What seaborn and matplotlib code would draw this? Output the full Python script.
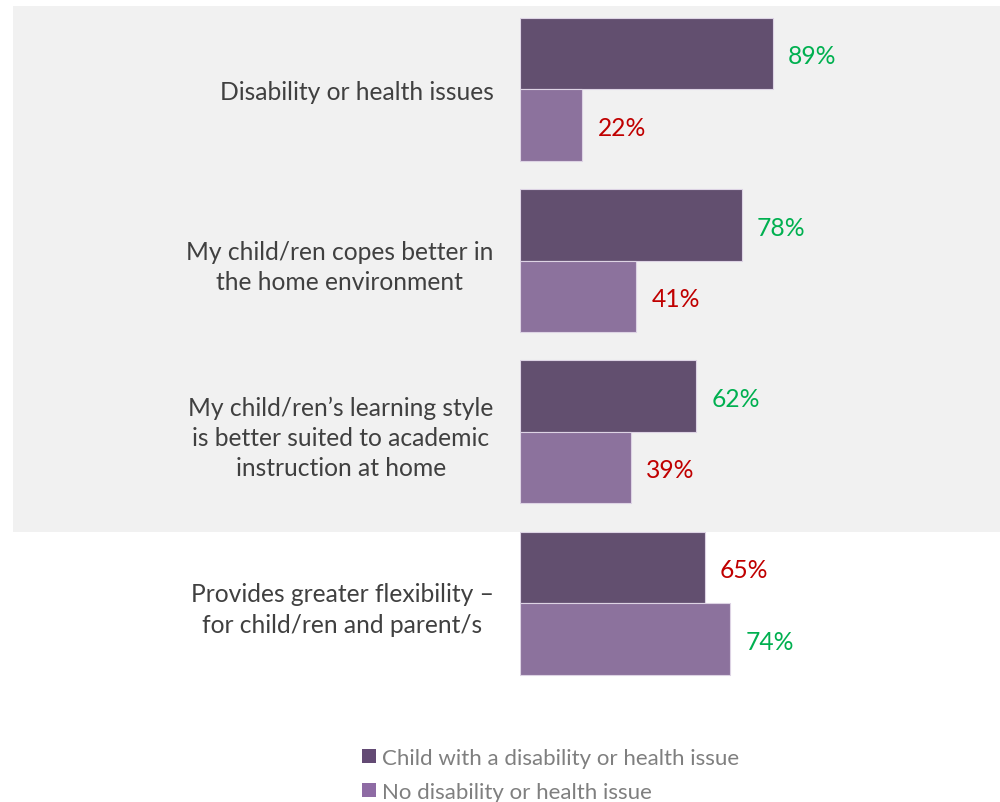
import matplotlib
matplotlib.use("Agg")
import matplotlib.pyplot as plt
from matplotlib.patches import Rectangle, Patch
import seaborn as sns
import pandas as pd

# Reasons for home schooling, by whether the child has a disability / health issue
categories = [
    "Disability or health issues",
    "My child/ren copes better in\nthe home environment",
    "My child/ren\u2019s learning style\nis better suited to academic\ninstruction at home",
    "Provides greater flexibility \u2013\nfor child/ren and parent/s",
]
groups = ["Child with a disability or health issue", "No disability or health issue"]
with_disability = [89, 78, 62, 65]
without_disability = [22, 41, 39, 74]

dark_purple = "#634a74"
light_purple = "#8e6ba4"
green = "#00b050"
red = "#c00000"

df = pd.DataFrame({
    "category": categories * 2,
    "group": [groups[0]] * len(categories) + [groups[1]] * len(categories),
    "value": with_disability + without_disability,
})

sns.set_theme(style="white")
plt.rcParams["font.family"] = ["Lato", "DejaVu Sans"]

fig = plt.figure(figsize=(10, 8.03), dpi=100)

# light grey panel behind the first three reasons
fig.patches.append(Rectangle((0.013, 0.3362), 0.987, 0.655, transform=fig.transFigure,
                             facecolor="#f1f1f1", edgecolor="none", zorder=-5))

ax = fig.add_axes([0.52, 0.1407, 0.48, 0.8537])
ax.set_zorder(2)
ax.patch.set_alpha(0)

sns.barplot(data=df, y="category", x="value", hue="group", order=categories,
            hue_order=groups, palette=[dark_purple, light_purple], orient="h",
            width=0.834, edgecolor="#ddd3e4", linewidth=0.8, ax=ax, legend=False)

ax.set_xlim(0, 169)
ax.set_ylim(3.5, -0.5)
ax.set_xlabel("")
ax.set_ylabel("")
ax.set_xticks([])
for s in ax.spines.values():
    s.set_visible(False)
ax.tick_params(axis="y", length=0, pad=19, labelsize=17.7, labelcolor="#404040")
for t in ax.get_yticklabels():
    t.set_multialignment("center")
    t.set_linespacing(1.38)

# value labels: green for the higher of each pair, red for the lower
for container, vals, others in zip(ax.containers, [with_disability, without_disability],
                                   [without_disability, with_disability]):
    for bar, v, o in zip(container, vals, others):
        y = bar.get_y() + bar.get_height() / 2
        ax.annotate(f"{v}%", (bar.get_width(), y), xytext=(11, -1.6),
                    textcoords="offset points", va="center", ha="left",
                    fontsize=17.7, color=green if v > o else red)

handles = [Patch(facecolor=dark_purple, edgecolor="none"),
           Patch(facecolor=light_purple, edgecolor="none")]
fig.legend(handles, groups, loc="lower left", bbox_to_anchor=(0.342, -0.025),
           frameon=False, fontsize=16, labelcolor="#7f7f7f", handlelength=0.62,
           handleheight=0.62, handletextpad=0.3, labelspacing=0.64)

fig.savefig("out.png", dpi=100)
